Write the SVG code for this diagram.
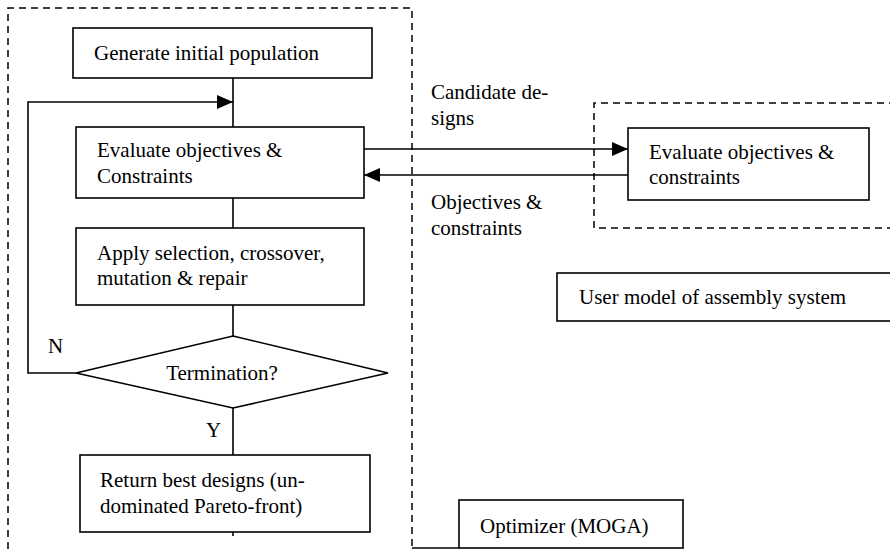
<svg xmlns="http://www.w3.org/2000/svg" width="890" height="549" viewBox="0 0 890 549" font-family="'Liberation Serif', 'DejaVu Serif', serif">
<defs>
<style>
text{font-family:'Liberation Serif', 'DejaVu Serif', serif;font-size:21px;fill:#000}
.box{fill:#fff;stroke:#000;stroke-width:1.6}
.dash{fill:none;stroke:#000;stroke-width:1.5;stroke-dasharray:7 5}
.ln{fill:none;stroke:#000;stroke-width:1.6}
</style>
<marker id="ah" viewBox="0 0 16 14" refX="16" refY="7" markerWidth="16" markerHeight="14" markerUnits="userSpaceOnUse" orient="auto">
<path d="M0,0 L16,7 L0,14 Z" fill="#000"/>
</marker>
</defs>
<rect width="890" height="549" fill="#fff"/>
<g id="optimizer-frame">
<path class="dash" d="M8,549 V8 H412 V548"/>
<path class="ln" d="M412,548 H459"/>
</g>
<g id="model-frame">
<path class="dash" d="M896,103 H594 V228 H896"/>
</g>
<g id="connectors">
<path class="ln" d="M233,78 V127"/>
<path class="ln" d="M233,198 V228"/>
<path class="ln" d="M233,305 V336"/>
<path class="ln" d="M233,408 V455"/>
<path class="ln" d="M233,532 V536"/>
<path class="ln" d="M76,373 H28 V102 H233" marker-end="url(#ah)"/>
<path class="ln" d="M364,149 H628" marker-end="url(#ah)"/>
<path class="ln" d="M628,175 H364" marker-end="url(#ah)"/>
<text x="48" y="353">N</text>
<text x="206" y="437">Y</text>
<text x="431" y="99">Candidate de-</text>
<text x="431" y="125">signs</text>
<text x="431" y="209">Objectives &amp;</text>
<text x="431" y="235">constraints</text>
</g>
<g id="generate">
<rect class="box" x="73" y="28" width="299" height="50"/>
<text x="94" y="60">Generate initial population</text>
</g>
<g id="evaluate">
<rect class="box" x="76" y="127" width="288" height="71"/>
<text x="97" y="157">Evaluate objectives &amp;</text>
<text x="97" y="183">Constraints</text>
</g>
<g id="apply">
<rect class="box" x="76" y="228" width="288" height="77"/>
<text x="97" y="260">Apply selection, crossover,</text>
<text x="97" y="285">mutation &amp; repair</text>
</g>
<g id="termination">
<polygon class="box" points="233,336 388,373 233,408 76,373"/>
<text x="222" y="380" text-anchor="middle">Termination?</text>
</g>
<g id="return">
<rect class="box" x="80" y="455" width="290" height="77"/>
<text x="100" y="487">Return best designs (un-</text>
<text x="100" y="513">dominated Pareto-front)</text>
</g>
<g id="optimizer">
<rect class="box" x="459" y="500" width="224" height="48"/>
<text x="480" y="533">Optimizer (MOGA)</text>
</g>
<g id="evaluate-model">
<rect class="box" x="628" y="128" width="241" height="72"/>
<text x="649" y="159">Evaluate objectives &amp;</text>
<text x="649" y="184">constraints</text>
</g>
<g id="user-model">
<rect class="box" x="557" y="273" width="340" height="48"/>
<text x="579" y="304">User model of assembly system</text>
</g>
</svg>
